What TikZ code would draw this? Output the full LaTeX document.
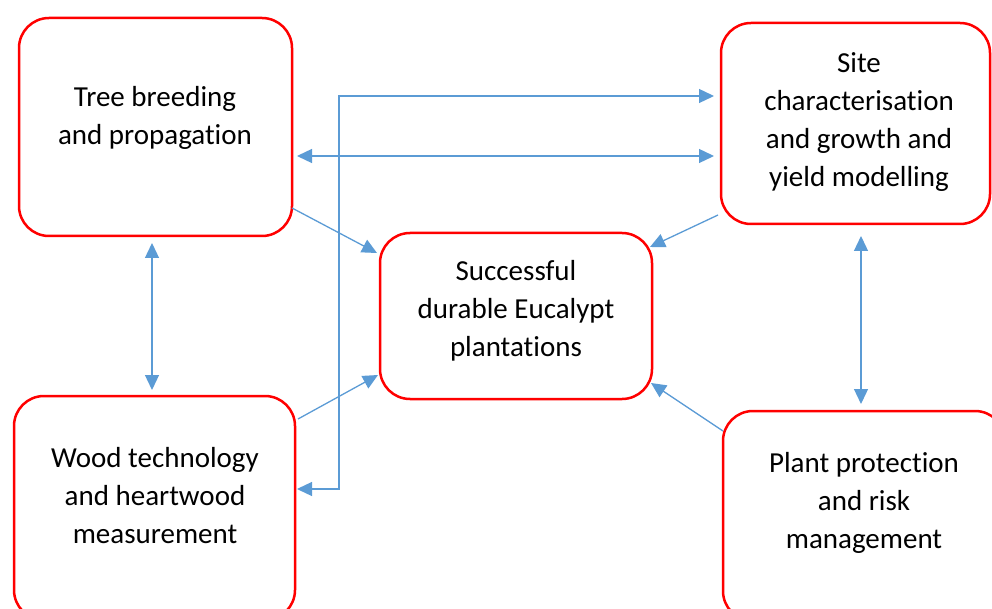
\documentclass[tikz,border=0pt]{standalone}
\usepackage{fontspec}
\setmainfont{Carlito}[Ligatures=NoCommon]
\usetikzlibrary{arrows.meta}
\definecolor{boxred}{RGB}{255,0,0}
\definecolor{linkblue}{RGB}{91,155,213}
\tikzset{
  box/.style={draw=boxred, line width=2.5pt, rounded corners=30pt, inner sep=0pt},
  lbl/.style={align=center, font=\fontsize{29}{38}\selectfont, inner sep=0pt},
  link/.style={draw=linkblue, line width=1.3pt, -{Triangle[length=15pt,width=14pt]}},
  twoway/.style={draw=linkblue, line width=1.3pt, {Triangle[length=15pt,width=14pt]}-{Triangle[length=15pt,width=14pt]}}
}
\begin{document}
\begin{tikzpicture}[x=1pt,y=-1pt]
  \clip (0,0) rectangle (992,609);
  % the five boxes
  \node[box, minimum width=273pt, minimum height=218pt] (breed) at (155.5,127) {};
  \node[box, minimum width=269pt, minimum height=201pt] (site) at (855.5,123.5) {};
  \node[box, minimum width=272pt, minimum height=166pt] (goal) at (516,316) {};
  \node[box, minimum width=281pt, minimum height=224pt] (wood) at (154.5,508) {};
  \node[box, minimum width=282pt, minimum height=210pt] (protect) at (864,516) {};

  % texts
  \node[lbl] (breedtxt) at (155,118) {Tree breeding\\and propagation};
  \node[lbl] (sitetxt) at (859,122) {Site\\characterisation\\and growth and\\yield modelling};
  \node[lbl] (goaltxt) at (516,311) {Successful\\durable Eucalypt\\plantations};
  \node[lbl] (woodtxt) at (155,496) {Wood technology\\and heartwood\\measurement};
  \node[lbl] (protecttxt) at (864,503) {Plant protection\\and risk\\management};

  % end points of the connectors
  \coordinate (breedA) at (292,208);
  \coordinate (goalA) at (377,253);
  \coordinate (breedB) at (297,156);
  \coordinate (siteB) at (714,156);
  \coordinate (siteC) at (714,96);
  \coordinate (woodC) at (297,489);
  \coordinate (siteD) at (718,215);
  \coordinate (goalD) at (650,247);
  \coordinate (breedE) at (152,243);
  \coordinate (woodE) at (152,390);
  \coordinate (siteF) at (861,236);
  \coordinate (protectF) at (861,404);
  \coordinate (woodG) at (298,419);
  \coordinate (goalG) at (378,375);
  \coordinate (protectH) at (723,431);
  \coordinate (goalH) at (651,383);

  % draw arrows
  \draw[link] (breedA) -- (goalA);
  \draw[twoway] (breedB) -- (siteB);
  \draw[twoway] (siteC) -| (339,489) -- (woodC);
  \draw[link] (siteD) -- (goalD);
  \draw[twoway] (breedE) -- (woodE);
  \draw[twoway] (siteF) -- (protectF);
  \draw[link] (woodG) -- (goalG);
  \draw[link] (protectH) -- (goalH);
\end{tikzpicture}
\end{document}
